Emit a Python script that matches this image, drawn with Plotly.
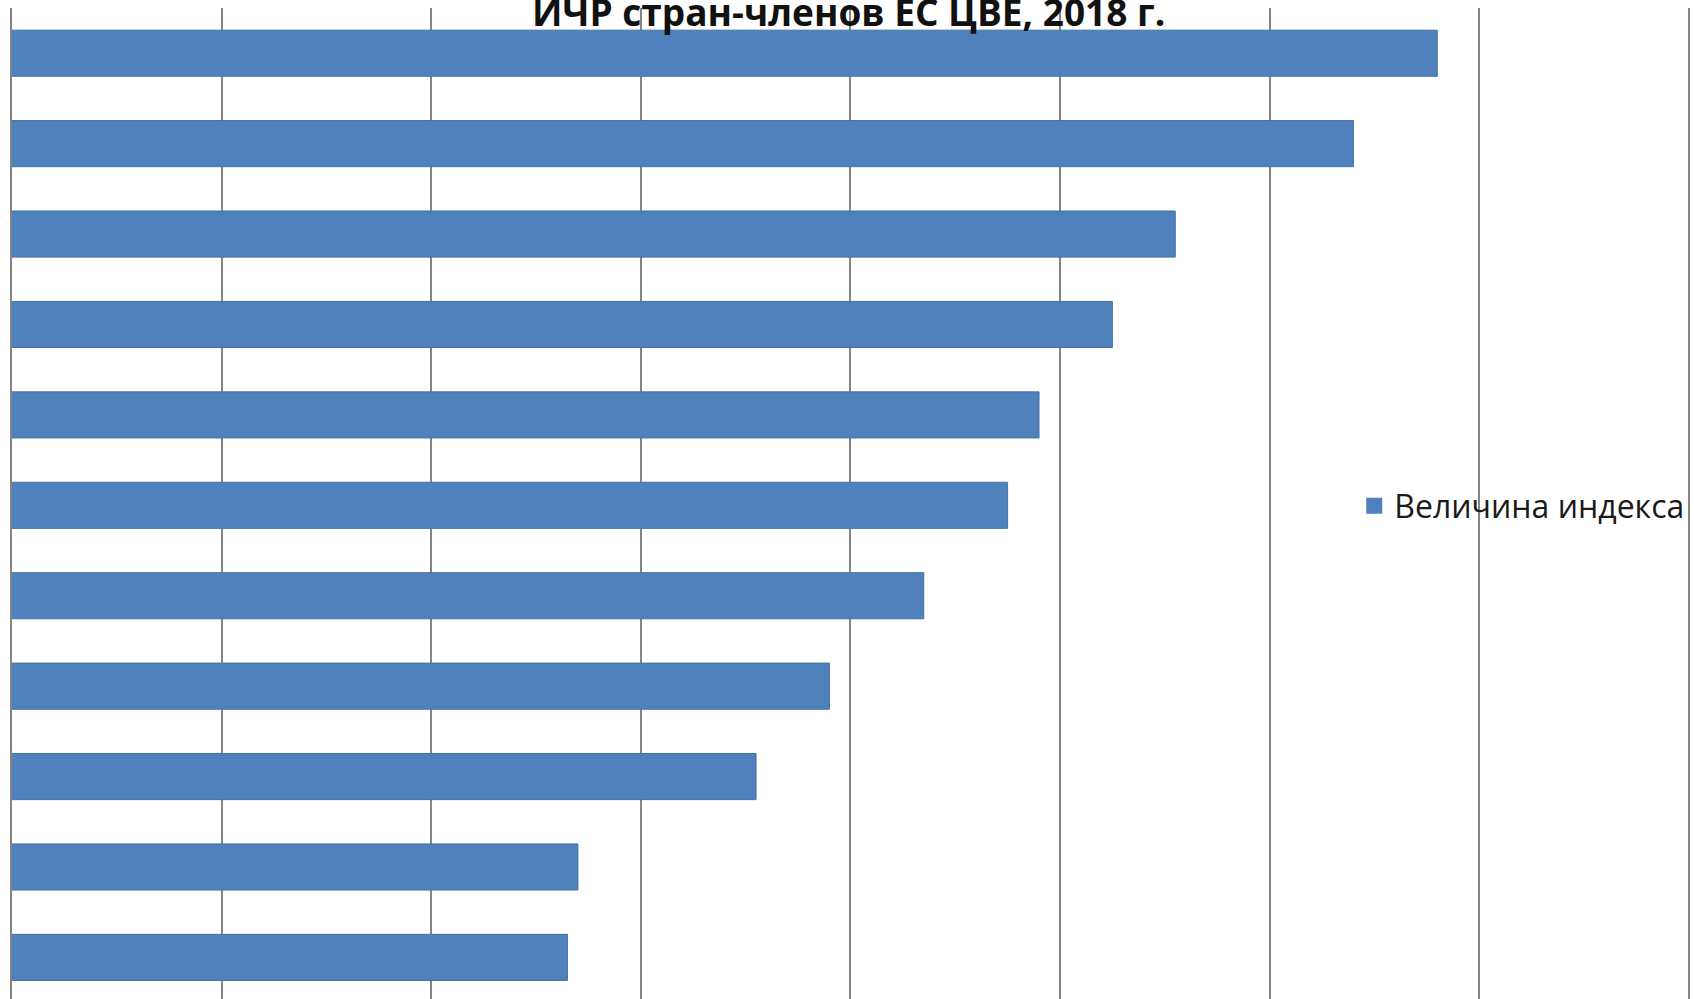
import plotly.graph_objects as go

# HDI of Central and Eastern European EU member states, 2018 (top to bottom)
countries = ["Словения", "Чехия", "Эстония", "Польша", "Литва", "Словакия",
             "Латвия", "Венгрия", "Хорватия", "Румыния", "Болгария"]
hdi_values = [0.896, 0.888, 0.871, 0.865, 0.858, 0.855,
              0.847, 0.838, 0.831, 0.814, 0.813]

series_name = "Величина индекса"
title_text = "ИЧР стран-членов ЕС ЦВЕ, 2018 г."

BAR_COLOR = "#4f81bd"
GRID_COLOR = "#858585"

fig = go.Figure()

fig.add_trace(go.Bar(
    x=hdi_values,
    y=countries,
    orientation="h",
    width=0.51,
    marker=dict(color=BAR_COLOR, line=dict(color="#46729f", width=1)),
    showlegend=False,
    name=series_name,
))

# legend entry with a larger square swatch
fig.add_trace(go.Scatter(
    x=[None], y=[None],
    mode="markers",
    marker=dict(symbol="square", size=19, color=BAR_COLOR),
    name=series_name,
    showlegend=True,
))

fig.update_layout(
    width=1694,
    height=999,
    margin=dict(l=12, r=0, t=8, b=0),
    paper_bgcolor="white",
    plot_bgcolor="white",
    xaxis=dict(
        range=[0.76, 0.9205],
        tick0=0.76,
        dtick=0.02,
        showgrid=True,
        gridcolor=GRID_COLOR,
        gridwidth=2,
        showticklabels=False,
        ticks="",
        zeroline=False,
        showline=False,
    ),
    yaxis=dict(
        type="category",
        categoryorder="array",
        categoryarray=countries,
        range=[10.46, -0.5],
        showticklabels=False,
        ticks="",
        showgrid=False,
        zeroline=False,
        showline=True,
        linecolor=GRID_COLOR,
        linewidth=2,
    ),
    legend=dict(
        x=0.798,
        y=0.4975,
        xanchor="left",
        yanchor="middle",
        bgcolor="rgba(0,0,0,0)",
        font=dict(family="Open Sans", size=32, color="#1a1a1a"),
        itemwidth=30,
    ),
    # white panel behind the title: hides gridlines, stays under the bars
    shapes=[dict(
        type="rect", layer="between",
        xref="paper", yref="paper",
        x0=0.305, x1=0.69, y0=0.9818, y1=1.0,
        fillcolor="white", line=dict(width=0),
    )],
    annotations=[dict(
        text="<b>" + title_text + "</b>",
        xref="paper", yref="paper",
        x=0.4975, y=0.9965,
        xanchor="center", yanchor="middle",
        showarrow=False,
        borderpad=0,
        font=dict(family="Open Sans", size=37, color="#111111"),
    )],
)

fig.write_html("out.html")
